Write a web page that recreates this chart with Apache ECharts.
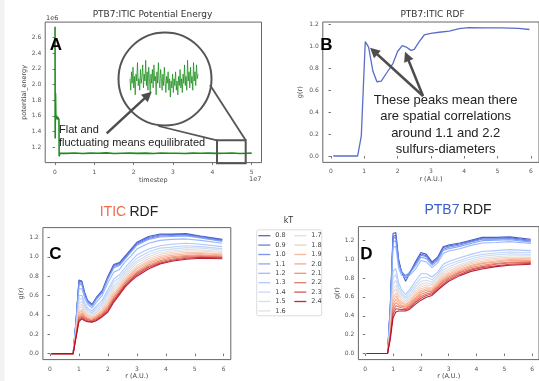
<!DOCTYPE html>
<html><head><meta charset="utf-8">
<script src="https://cdn.jsdelivr.net/npm/echarts@6/dist/echarts.min.js"></script>
<style>html,body{margin:0;padding:0;background:#fff}#c{width:539px;height:381px}</style>
</head><body><div id="c"></div>
<script>
// ---------- DATA ----------
// Panel A: potential energy (timestep in 1e7, energy in 1e6)
const energyT = [0,0.004,0.012,0.02,0.03,0.045,0.06,0.075,0.09,0.1,0.105,0.12,0.3,0.5,0.7,0.9,1.1,1.3,1.5,1.7,1.9,2.1,2.3,2.5,2.7,2.9,3.1,3.3,3.5,3.7,3.9,4.1,4.3,4.5,4.7,4.9,5.0];
const energyV = [2.74,1.31,1.89,1.62,1.56,1.60,1.55,1.58,1.56,1.55,1.08,1.12,1.118,1.123,1.116,1.121,1.119,1.124,1.117,1.12,1.122,1.118,1.121,1.116,1.123,1.119,1.12,1.117,1.122,1.119,1.121,1.118,1.12,1.123,1.117,1.12,1.121];
// zoomed-in fluctuation (relative units)
const insetV = [0.55,0.3,0.7,0.45,0.8,0.35,0.6,0.2,0.65,0.5,0.9,0.4,0.55,0.3,0.75,0.45,0.6,0.85,0.35,0.65,0.5,0.95,0.4,0.7,0.3,0.8,0.55,0.25,0.65,0.45,0.75,0.35,0.85,0.5,0.6,0.2,0.7,0.45,0.9,0.5,0.35,0.75,0.55,0.3,0.65,0.4,0.8,0.5,0.25,0.6,0.45,0.7,0.3,0.55,0.15,0.5,0.35,0.65,0.25,0.55,0.4,0.7,0.3,0.5,0.2,0.6,0.4,0.75,0.35,0.55,0.25,0.65,0.45,0.85,0.4,0.6,0.3,0.95,0.5,0.7,0.35,0.8,0.45,0.6,0.3,0.9,0.5,0.7,0.4,0.85,0.55,0.65];
// Panel B: PTB7:ITIC RDF
const rdfR = [0.07,0.8,0.91,1.03,1.13,1.26,1.38,1.51,1.66,1.86,2.0,2.14,2.26,2.4,2.5,2.65,2.8,3.0,3.25,3.55,3.85,4.14,4.64,5.14,5.63,5.96];
const rdfG = [0,0,0.18,1.04,0.99,0.77,0.675,0.68,0.75,0.84,0.95,1.003,0.99,0.96,0.97,1.04,1.1,1.115,1.125,1.136,1.158,1.167,1.164,1.164,1.16,1.15];
// Panels C, D: r grid and kT values
const rGrid = [0.05,0.8,0.9,1.0,1.1,1.2,1.3,1.45,1.6,1.8,2.0,2.2,2.4,2.6,2.8,3.0,3.4,3.8,4.2,4.7,5.2,5.95];
const kT = ['0.8','0.9','1.0','1.1','1.2','1.3','1.4','1.5','1.6','1.7','1.8','1.9','2.0','2.1','2.2','2.3','2.4'];
const iticG = [
 [0,0,0.35,0.76,0.75,0.63,0.55,0.51,0.58,0.65,0.80,0.92,0.94,1.01,1.08,1.15,1.21,1.235,1.235,1.24,1.215,1.18],
 [0,0,0.34,0.75,0.74,0.62,0.54,0.50,0.57,0.64,0.79,0.91,0.93,1.00,1.07,1.14,1.20,1.225,1.23,1.23,1.21,1.175],
 [0,0,0.34,0.73,0.73,0.61,0.54,0.50,0.57,0.63,0.78,0.90,0.92,0.99,1.06,1.13,1.19,1.215,1.22,1.225,1.20,1.17],
 [0,0,0.33,0.72,0.71,0.60,0.53,0.49,0.56,0.63,0.77,0.885,0.91,0.98,1.05,1.12,1.18,1.205,1.21,1.215,1.195,1.16],
 [0,0,0.31,0.67,0.67,0.57,0.51,0.47,0.53,0.60,0.73,0.84,0.87,0.95,1.01,1.08,1.14,1.17,1.18,1.185,1.17,1.14],
 [0,0,0.28,0.60,0.60,0.52,0.47,0.44,0.49,0.55,0.66,0.77,0.815,0.89,0.955,1.02,1.08,1.115,1.13,1.14,1.13,1.105],
 [0,0,0.265,0.56,0.57,0.49,0.45,0.42,0.47,0.52,0.63,0.74,0.785,0.86,0.925,0.985,1.05,1.09,1.10,1.115,1.105,1.085],
 [0,0,0.25,0.52,0.535,0.47,0.43,0.41,0.45,0.50,0.60,0.705,0.76,0.835,0.90,0.955,1.025,1.065,1.08,1.095,1.09,1.07],
 [0,0,0.24,0.49,0.51,0.45,0.41,0.395,0.43,0.48,0.57,0.68,0.735,0.81,0.875,0.935,1.00,1.045,1.06,1.075,1.07,1.055],
 [0,0,0.23,0.47,0.485,0.43,0.40,0.385,0.42,0.465,0.55,0.655,0.715,0.79,0.855,0.91,0.98,1.025,1.045,1.06,1.06,1.045],
 [0,0,0.22,0.44,0.46,0.415,0.39,0.375,0.40,0.45,0.525,0.63,0.695,0.775,0.835,0.89,0.96,1.005,1.03,1.045,1.045,1.03],
 [0,0,0.21,0.42,0.44,0.40,0.375,0.365,0.39,0.435,0.51,0.61,0.68,0.755,0.82,0.875,0.945,0.99,1.015,1.03,1.035,1.02],
 [0,0,0.20,0.40,0.42,0.385,0.365,0.355,0.38,0.42,0.49,0.59,0.665,0.74,0.805,0.855,0.93,0.975,1.00,1.015,1.02,1.01],
 [0,0,0.19,0.38,0.405,0.375,0.355,0.345,0.37,0.41,0.475,0.575,0.65,0.73,0.79,0.84,0.915,0.96,0.99,1.005,1.01,1.00],
 [0,0,0.18,0.365,0.39,0.365,0.35,0.34,0.36,0.40,0.46,0.56,0.635,0.715,0.775,0.83,0.90,0.95,0.975,0.995,1.00,0.995],
 [0,0,0.175,0.345,0.375,0.35,0.34,0.33,0.35,0.39,0.445,0.545,0.625,0.705,0.765,0.815,0.89,0.935,0.965,0.985,0.995,0.99],
 [0,0,0.17,0.33,0.36,0.34,0.33,0.325,0.34,0.38,0.43,0.53,0.61,0.69,0.75,0.80,0.875,0.925,0.955,0.975,0.985,0.98]
];
const ptb7G = [
 [0,0,0.50,1.27,1.28,1.00,0.87,0.765,0.85,0.97,1.07,1.05,0.97,1.02,1.13,1.15,1.17,1.20,1.23,1.23,1.235,1.21],
 [0,0,0.49,1.24,1.255,0.98,0.87,0.80,0.86,0.955,1.055,1.035,0.96,1.01,1.12,1.14,1.16,1.19,1.22,1.22,1.225,1.20],
 [0,0,0.48,1.22,1.23,0.97,0.87,0.82,0.86,0.945,1.04,1.025,0.95,1.00,1.105,1.125,1.15,1.18,1.21,1.21,1.215,1.19],
 [0,0,0.465,1.18,1.195,0.945,0.86,0.83,0.85,0.925,1.02,1.005,0.935,0.985,1.09,1.11,1.135,1.165,1.195,1.20,1.205,1.18],
 [0,0,0.44,1.12,1.135,0.905,0.83,0.81,0.83,0.89,0.985,0.97,0.91,0.96,1.06,1.085,1.11,1.145,1.17,1.175,1.185,1.165],
 [0,0,0.34,0.87,0.90,0.75,0.68,0.625,0.68,0.765,0.845,0.845,0.81,0.86,0.945,0.975,1.015,1.05,1.08,1.09,1.10,1.09],
 [0,0,0.31,0.80,0.835,0.71,0.645,0.60,0.65,0.73,0.80,0.81,0.78,0.835,0.915,0.945,0.985,1.025,1.05,1.065,1.075,1.07],
 [0,0,0.29,0.735,0.775,0.67,0.62,0.58,0.62,0.70,0.765,0.775,0.755,0.81,0.885,0.92,0.965,1.00,1.03,1.045,1.055,1.05],
 [0,0,0.27,0.68,0.725,0.635,0.595,0.56,0.60,0.675,0.735,0.75,0.735,0.79,0.86,0.895,0.94,0.98,1.01,1.025,1.035,1.035],
 [0,0,0.25,0.64,0.685,0.61,0.57,0.545,0.58,0.65,0.71,0.725,0.72,0.77,0.84,0.875,0.925,0.965,0.99,1.01,1.02,1.02],
 [0,0,0.235,0.595,0.64,0.58,0.55,0.525,0.56,0.63,0.685,0.705,0.70,0.755,0.82,0.855,0.91,0.95,0.975,0.995,1.005,1.01],
 [0,0,0.22,0.56,0.61,0.56,0.535,0.515,0.545,0.61,0.665,0.685,0.685,0.74,0.80,0.84,0.895,0.935,0.96,0.98,0.995,1.00],
 [0,0,0.205,0.52,0.575,0.54,0.515,0.50,0.53,0.59,0.645,0.67,0.67,0.725,0.785,0.825,0.88,0.925,0.95,0.97,0.985,0.985],
 [0,0,0.19,0.485,0.54,0.515,0.50,0.49,0.515,0.575,0.625,0.65,0.66,0.71,0.77,0.81,0.865,0.91,0.935,0.955,0.97,0.975],
 [0,0,0.18,0.45,0.505,0.495,0.485,0.475,0.50,0.555,0.605,0.63,0.645,0.70,0.755,0.795,0.855,0.895,0.92,0.945,0.96,0.965],
 [0,0,0.165,0.415,0.475,0.47,0.465,0.465,0.485,0.54,0.585,0.615,0.63,0.685,0.735,0.78,0.84,0.885,0.91,0.93,0.945,0.955],
 [0,0,0.15,0.38,0.44,0.45,0.45,0.45,0.47,0.52,0.565,0.595,0.615,0.67,0.72,0.765,0.825,0.87,0.895,0.92,0.935,0.945]
];
// tick labels
const ticksAx = [0,1,2,3,4,5];
const ticksAy = [1.2,1.4,1.6,1.8,2.0,2.2,2.4,2.6];
const ticksRx = [0,1,2,3,4,5,6];
const ticksRy = [0,0.2,0.4,0.6,0.8,1.0,1.2];

// ---------- STYLE ----------
const coolwarm = ['#3b4cc0','#4f69d9','#6282ea','#779af7','#8db0fe','#a3c2fe','#b8d0f9','#cad8ef','#dddcdc','#ecd3c5','#f5c4ac','#f7af91','#f39b7b','#ec7f63','#de614d','#ca3b37','#b40426'];
const TF = 'DejaVu Sans', AF = 'Liberation Sans';
const grey = '#555';

function vAxis(gi, min, max, ticks, fmt, name, gap, lm){
  return {type:'value', gridIndex:gi, min:min, max:max,
    axisLine:{show:false}, splitLine:{show:false},
    axisTick:{show:true, length:2.5, lineStyle:{color:'#777'}, customValues:ticks},
    axisLabel:{customValues:ticks, formatter:fmt, fontSize:6, color:'#555', fontFamily:TF, margin:lm},
    name:name, nameLocation:'middle', nameGap:gap,
    nameTextStyle:{fontSize:6.5, color:'#444', fontFamily:TF}};
}
const f0 = v => String(Math.round(v));
const f1 = v => v.toFixed(1);
const pairs = (xs, ys) => xs.map((x,i)=>[x, ys[i]]);

const grids = [
  {left:45.2, top:22.1, width:216.3, height:140.5, show:true, borderColor:'#666', borderWidth:1},
  {left:130, top:58, width:68, height:46, show:false},
  {left:322.8, top:22, width:217.7, height:140.4, show:true, borderColor:'#666', borderWidth:1},
  {left:42.9, top:227.6, width:187.9, height:134.5, show:true, borderColor:'#666', borderWidth:1},
  {left:358.4, top:226.6, width:192.2, height:138, show:true, borderColor:'#666', borderWidth:1}
];
const xAxes = [
  vAxis(0, -0.25, 5.25, ticksAx, f0, 'timestep', 14, 6.5),
  {type:'value', gridIndex:1, min:0, max:insetV.length-1, show:false},
  vAxis(2, -0.245, 6.245, ticksRx, f0, 'r (A.U.)', 13, 6.5),
  vAxis(3, -0.245, 6.245, ticksRx, f0, 'r (A.U.)', 12.4, 6.5),
  vAxis(4, -0.245, 6.245, ticksRx, f0, 'r (A.U.)', 10.5, 6.5)
];
const yAxes = [
  vAxis(0, 1.0, 2.8, ticksAy, f1, 'potential_energy', 17.5, 4),
  {type:'value', gridIndex:1, min:0, max:1, show:false},
  vAxis(2, -0.058, 1.218, ticksRy, f1, 'g(r)', 18.5, 4),
  vAxis(3, -0.062, 1.302, ticksRy, f1, 'g(r)', 18.5, 4),
  vAxis(4, -0.064, 1.344, ticksRy, f1, 'g(r)', 15, 4)
];

const series = [
  {type:'line', xAxisIndex:0, yAxisIndex:0, data:pairs(energyT, energyV), symbol:'none',
   lineStyle:{color:'#1e8c1e', width:1.6}, itemStyle:{color:'#1e8c1e'}, z:3},
  {type:'line', xAxisIndex:1, yAxisIndex:1, data:insetV.map((v,i)=>[i,v]), symbol:'none',
   lineStyle:{color:'#138a13', width:0.8, opacity:0.9}, z:3},
  {type:'line', xAxisIndex:2, yAxisIndex:2, data:pairs(rdfR, rdfG), symbol:'none',
   lineStyle:{color:'#5a6ec8', width:1.3}, z:3}
];
kT.forEach((k,i)=>{
  series.push({name:k, type:'line', xAxisIndex:3, yAxisIndex:3, data:pairs(rGrid, iticG[i]), symbol:'none',
    lineStyle:{color:coolwarm[i], width:1.1, opacity:0.9}, itemStyle:{color:coolwarm[i]}, z:3});
});
kT.forEach((k,i)=>{
  series.push({name:k, type:'line', xAxisIndex:4, yAxisIndex:4, data:pairs(rGrid, ptb7G[i]), symbol:'none',
    lineStyle:{color:coolwarm[i], width:1.1, opacity:0.9}, itemStyle:{color:coolwarm[i]}, z:3});
});

function legendCol(left, names){
  return {left:left, top:231, orient:'vertical', data:names, padding:0, itemGap:0,
    icon:'rect', itemWidth:12, itemHeight:1.3, selectedMode:false,
    itemStyle:{opacity:0.85},
    textStyle:{fontSize:6.5, color:'#444', fontFamily:TF, lineHeight:9.4, padding:[0,0,0,0]}};
}

function arrow(x1,y1,x2,y2,hl,hw,lw){
  const dx=x2-x1, dy=y2-y1, L=Math.hypot(dx,dy), ux=dx/L, uy=dy/L;
  const bx=x2-ux*hl, by=y2-uy*hl;
  return [
    {type:'line', z:100, shape:{x1:x1,y1:y1,x2:bx+ux*1,y2:by+uy*1}, style:{stroke:'#4d4d4d', lineWidth:lw}},
    {type:'polygon', z:100, shape:{points:[[x2,y2],[bx-uy*hw,by+ux*hw],[bx+uy*hw,by-ux*hw]]}, style:{fill:'#4d4d4d'}}
  ];
}
function txt(x,y,t,opts){
  return {type:'text', z:100, x:x, y:y, style:Object.assign({text:t, fill:'#222', font:'12px '+AF, align:'center', verticalAlign:'middle'}, opts||{})};
}

const graphics = [
  {type:'rect', z:0, shape:{x:0,y:0,width:4.5,height:381}, style:{fill:'#f2f2f2'}},
  // titles
  txt(152.5, 15, 'PTB7:ITIC Potential Energy', {font:'9px '+TF, fill:'#333'}),
  txt(432.5, 15, 'PTB7:ITIC RDF', {font:'9px '+TF, fill:'#333'}),
  {type:'text', z:100, x:129, y:212.3, style:{text:'{a|ITIC} {b|RDF}', align:'center', verticalAlign:'middle',
    rich:{a:{fill:'#f26b4b', font:'14px '+AF}, b:{fill:'#222', font:'14px '+AF}}}},
  {type:'text', z:100, x:458, y:209.7, style:{text:'{a|PTB7} {b|RDF}', align:'center', verticalAlign:'middle',
    rich:{a:{fill:'#3a5ec8', font:'14px '+AF}, b:{fill:'#222', font:'14px '+AF}}}},
  // panel letters
  txt(56, 45.8, 'A', {font:'bold 17px '+AF, fill:'#000'}),
  txt(326.5, 45.8, 'B', {font:'bold 17px '+AF, fill:'#000'}),
  txt(55.5, 254.5, 'C', {font:'bold 17px '+AF, fill:'#000'}),
  txt(366.5, 254.3, 'D', {font:'bold 17px '+AF, fill:'#000'}),
  // exponents
  txt(46, 18.5, '1e6', {font:'6.5px '+TF, fill:'#444', align:'left'}),
  txt(249, 179, '1e7', {font:'6.5px '+TF, fill:'#444', align:'left'}),
  // zoom circle & box
  {type:'circle', z:100, shape:{cx:165, cy:79, r:46.5}, style:{fill:null, stroke:grey, lineWidth:2}},
  {type:'rect', z:100, shape:{x:217, y:140.3, width:28.7, height:23}, style:{fill:null, stroke:grey, lineWidth:2}},
  {type:'line', z:100, shape:{x1:158.3,y1:126,x2:217,y2:140.3}, style:{stroke:grey, lineWidth:1.8}},
  {type:'line', z:100, shape:{x1:210,y1:85,x2:245.7,y2:140.3}, style:{stroke:grey, lineWidth:1.8}},
  ...arrow(106.7,133.3,151.7,91.7,10,5,2.5),
  txt(59, 130, 'Flat and', {font:'11px '+AF, align:'left'}),
  txt(59, 143, 'fluctuating means equilibrated', {font:'11px '+AF, align:'left'}),
  // panel B annotation
  ...arrow(423,96,370,47.7,10,5,2.5),
  ...arrow(423,96,405,51.7,10,5,2.5),
  txt(445.7, 100, 'These peaks mean there', {font:'13px '+AF}),
  txt(445.7, 116.5, 'are spatial correlations', {font:'13px '+AF}),
  txt(445.7, 133, 'around 1.1 and 2.2', {font:'13px '+AF}),
  txt(445.7, 149, 'sulfurs-diameters', {font:'13px '+AF}),
  // legend box & title
  {type:'rect', z:1, shape:{x:256.7, y:229.8, width:65, height:86, r:2}, style:{fill:'#fff', stroke:'#dcdcdc', lineWidth:1}},
  txt(288.5, 221, 'kT', {font:'8px '+TF, fill:'#333'})
];

const chart = echarts.init(document.getElementById('c'), null, {renderer:'canvas'});
chart.setOption({
  animation:false,
  backgroundColor:'#fff',
  grid:grids, xAxis:xAxes, yAxis:yAxes, series:series,
  legend:[legendCol(258.3, kT.slice(0,9)), legendCol(294.3, kT.slice(9))],
  graphic:graphics
});
</script></body></html>
